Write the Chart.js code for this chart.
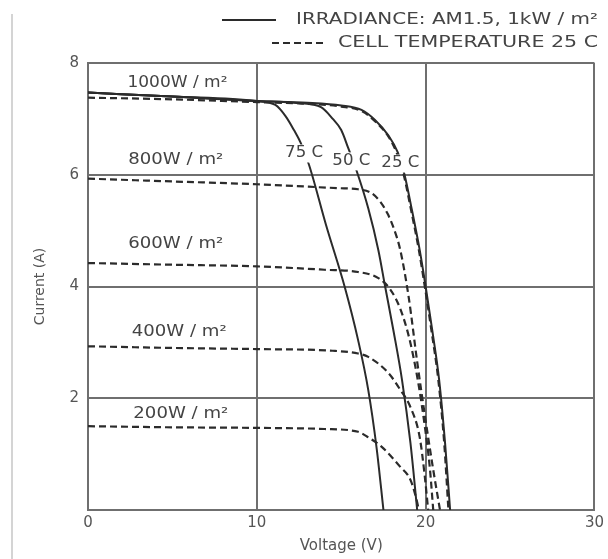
<!DOCTYPE html>
<html>
<head>
<meta charset="utf-8">
<script src="https://cdn.jsdelivr.net/npm/chart.js@4/dist/chart.umd.min.js"></script>
<style>
  body { margin: 0; background: #fff; }
  .wrap { position: relative; width: 608px; height: 559px; }
  .edge { position: absolute; left: 11px; top: 14px; width: 2px; height: 545px; background: #d4d4d4; }
</style>
</head>
<body>
<div class="wrap">
  <div class="edge"></div>
  <canvas id="ivChart" width="608" height="559"></canvas>
</div>
<script>
// I-V curves, voltage (V) against current (A)
const xTicks = [0, 10, 20, 30]
const yTicks = [0, 2, 4, 6, 8]

// 1000 W/m2 at three cell temperatures (solid)
const v75 = [0, 5, 10, 11.1, 11.7, 12.2, 12.6, 13.1, 14.1, 15.2, 16.0, 16.6, 17.1, 17.5]
const i75 = [7.47, 7.4, 7.32, 7.25, 7.05, 6.8, 6.57, 6.17, 5.1, 4.0, 3.04, 2.15, 1.1, 0]
const v50 = [0, 5, 10, 12.5, 13.8, 14.5, 15.0, 15.4, 15.9, 16.6, 17.2, 17.6, 18.1, 18.6, 19.1, 19.5]
const i50 = [7.47, 7.4, 7.32, 7.28, 7.21, 7.0, 6.8, 6.49, 6.08, 5.4, 4.65, 4.0, 3.2, 2.33, 1.2, 0]
const v25 = [0, 5, 10, 13, 15, 16.2, 17.0, 17.8, 18.35, 18.75, 19.2, 19.65, 20.0, 20.4, 20.8, 21.15, 21.45]
const i25 = [7.47, 7.4, 7.32, 7.29, 7.24, 7.16, 6.98, 6.7, 6.4, 6.0, 5.35, 4.65, 4.0, 3.2, 2.33, 1.2, 0]

// 25 C at five irradiances (dashed)
const v1000 = [0, 5, 10, 13, 15, 16.2, 17.0, 17.8, 18.3, 18.7, 19.15, 19.6, 19.95, 20.35, 20.75, 21.1, 21.35]
const i1000 = [7.38, 7.35, 7.3, 7.27, 7.22, 7.14, 6.96, 6.68, 6.38, 6.0, 5.35, 4.65, 4.0, 3.2, 2.33, 1.2, 0]
const v800 = [0, 5, 10, 14.8, 16.0, 16.8, 17.35, 17.75, 18.1, 18.5, 19.0, 19.5, 20.0, 20.45, 20.85]
const i800 = [5.93, 5.88, 5.83, 5.76, 5.74, 5.67, 5.5, 5.3, 5.05, 4.65, 3.8, 2.65, 1.6, 0.72, 0]
const v600 = [0, 5, 10, 14, 16, 17.2, 17.9, 18.5, 19.05, 19.55, 19.95, 20.25, 20.45]
const i600 = [4.42, 4.39, 4.36, 4.3, 4.26, 4.15, 3.95, 3.6, 3.05, 2.3, 1.5, 0.75, 0]
const v400 = [0, 5, 10, 14.5, 16.0, 16.6, 17.8, 18.5, 19.1, 19.65, 19.95, 20.15]
const i400 = [2.93, 2.9, 2.88, 2.85, 2.8, 2.74, 2.45, 2.15, 1.84, 1.3, 0.6, 0]
const v200 = [0, 5, 10, 14, 16, 16.6, 17.4, 18.5, 19.1, 19.45, 19.6]
const i200 = [1.5, 1.48, 1.47, 1.45, 1.4, 1.3, 1.13, 0.77, 0.54, 0.2, 0]

// text placed on the plot, in data units
const curveLabels = ['1000W / m²', '800W / m²', '600W / m²', '400W / m²', '200W / m²']
const curveLabelV = [5.3, 5.2, 5.2, 5.4, 5.5]
const curveLabelI = [7.64, 6.26, 4.76, 3.18, 1.72]
const tempLabels = ['75 C', '50 C', '25 C']
const tempLabelV = [12.8, 15.6, 18.5]
const tempLabelI = [6.38, 6.24, 6.2]

const ink = '#2b2b2b'
const textInk = '#444'
const gridInk = '#6f6f6f'

function pts(vs, is) {
    return vs.map((v, k) => ({ x: v, y: is[k] }))
}

function curve(vs, is, dashed) {
    return {
        data: pts(vs, is),
        borderColor: ink,
        borderWidth: dashed ? 2.2 : 2,
        borderDash: dashed ? [7, 4] : [],
        pointRadius: 0,
        fill: false,
        cubicInterpolationMode: 'monotone'
    }
}

// draw text squeezed or stretched to a given width
function wideText(ctx, text, cx, cy, w) {
    const m = ctx.measureText(text).width
    ctx.save()
    ctx.translate(cx, cy)
    ctx.scale(w / m, 1)
    ctx.textAlign = 'center'
    ctx.textBaseline = 'middle'
    ctx.fillText(text, 0, 0)
    ctx.restore()
}

const annotations = {
    id: 'annotations',
    afterDatasetsDraw(chart) {
        const ctx = chart.ctx
        const xs = chart.scales.x
        const ys = chart.scales.y
        ctx.save()
        ctx.fillStyle = textInk
        ctx.font = '15px "DejaVu Sans"'
        curveLabels.forEach((t, k) => {
            const w = t.length > 9 ? 100 : 95
            wideText(ctx, t, xs.getPixelForValue(curveLabelV[k]), ys.getPixelForValue(curveLabelI[k]), w)
        })
        tempLabels.forEach((t, k) => {
            const cx = xs.getPixelForValue(tempLabelV[k])
            const cy = ys.getPixelForValue(tempLabelI[k])
            ctx.fillStyle = '#fff'
            ctx.fillRect(cx - 19, cy - 9, 38, 18)
            ctx.fillStyle = textInk
            wideText(ctx, t, cx, cy, 38)
        })

        // legend, top right
        ctx.strokeStyle = ink
        ctx.lineWidth = 2
        ctx.beginPath()
        ctx.moveTo(222, 20)
        ctx.lineTo(276, 20)
        ctx.stroke()
        ctx.setLineDash([7, 4])
        ctx.beginPath()
        ctx.moveTo(272, 43)
        ctx.lineTo(327, 43)
        ctx.stroke()
        ctx.setLineDash([])
        ctx.font = '16px "DejaVu Sans"'
        wideText(ctx, 'IRRADIANCE: AM1.5, 1kW / m²', 447, 20, 302)
        wideText(ctx, 'CELL TEMPERATURE 25 C', 468, 43, 260)
        ctx.restore()
    }
}

const ctx = document.getElementById('ivChart').getContext('2d')
const ivChart = new Chart(ctx, {
    type: 'line',
    data: {
        datasets: [
            curve(v75, i75, false),
            curve(v50, i50, false),
            curve(v25, i25, false),
            curve(v1000, i1000, true),
            curve(v800, i800, true),
            curve(v600, i600, true),
            curve(v400, i400, true),
            curve(v200, i200, true)
        ]
    },
    options: {
        responsive: false,
        animation: false,
        layout: { padding: { left: 28, top: 63, right: 10, bottom: 0 } },
        plugins: {
            legend: { display: false },
            tooltip: { enabled: false }
        },
        scales: {
            x: {
                type: 'linear',
                min: 0,
                max: 30,
                afterBuildTicks: (s) => { s.ticks = xTicks.map(v => ({ value: v })) },
                afterFit: (s) => { s.height = 49 },
                grid: { color: gridInk, lineWidth: 2, drawTicks: false },
                border: { color: gridInk, width: 2 },
                ticks: { color: '#555', font: { family: 'DejaVu Sans', size: 15 }, padding: 4 },
                title: {
                    display: true,
                    text: 'Voltage (V)',
                    color: '#555',
                    font: { family: 'DejaVu Sans', size: 15 }
                }
            },
            y: {
                type: 'linear',
                min: 0,
                max: 8,
                afterBuildTicks: (s) => { s.ticks = yTicks.map(v => ({ value: v })) },
                afterFit: (s) => { s.width = 60 },
                grid: { color: gridInk, lineWidth: 2, drawTicks: false },
                border: { color: gridInk, width: 2 },
                ticks: {
                    color: '#555',
                    font: { family: 'DejaVu Sans', size: 15 },
                    padding: 9,
                    callback: (v) => v === 0 ? '' : v
                },
                title: {
                    display: true,
                    text: 'Current (A)',
                    color: '#555',
                    font: { family: 'DejaVu Sans', size: 14 }
                }
            }
        }
    },
    plugins: [annotations]
})
</script>
</body>
</html>
